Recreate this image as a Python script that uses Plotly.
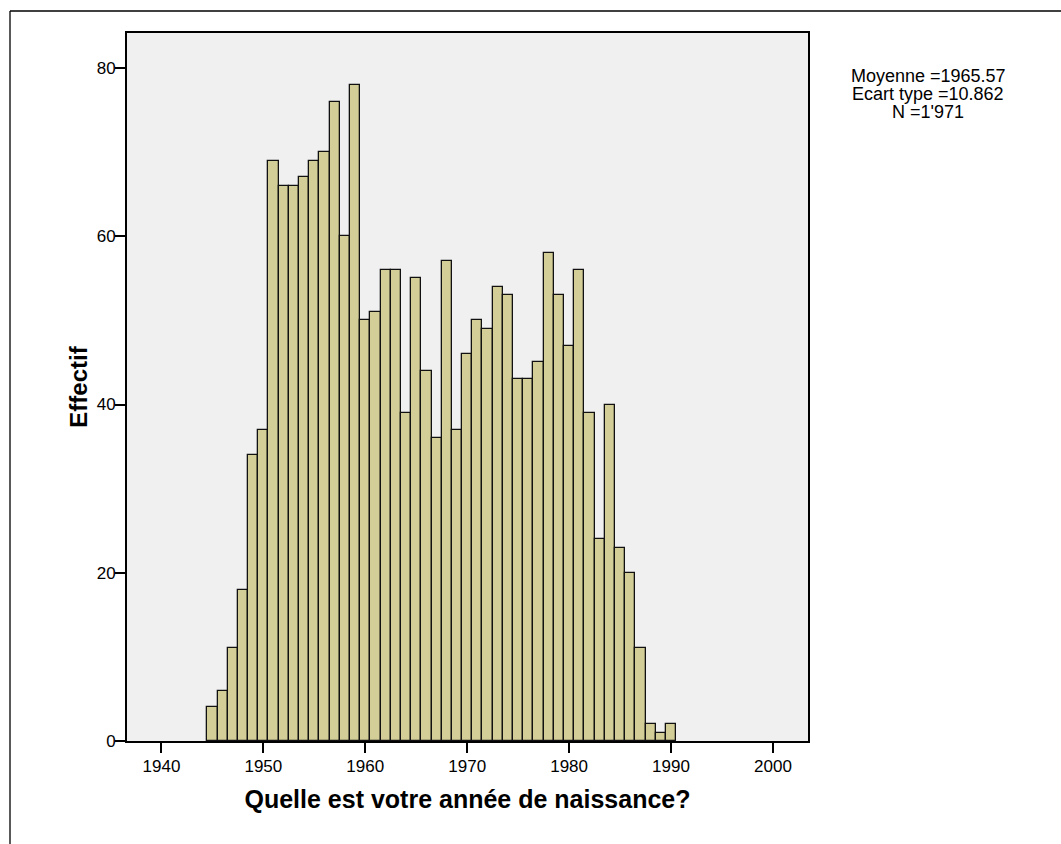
import plotly.graph_objects as go

# Birth years (histogram bins, width 1 year) and counts
years = list(range(1945, 1991))
counts = [4, 6, 11, 18, 34, 37, 69, 66, 66, 67,
          69, 70, 76, 60, 78, 50, 51, 56, 56, 39,
          55, 44, 36, 57, 37, 46, 50, 49, 54, 53,
          43, 43, 45, 58, 53, 47, 56, 39, 24, 40,
          23, 20, 11, 2, 1, 2]

x_ticks = [1940, 1950, 1960, 1970, 1980, 1990, 2000]
y_ticks = [0, 20, 40, 60, 80]
stats_lines = ["Moyenne =1965.57", "Ecart type =10.862", "N =1'971"]

FONT = "Liberation Sans, Arial, sans-serif"

fig = go.Figure()
fig.add_trace(go.Bar(
    x=years, y=counts, width=1,
    marker=dict(color="#D3CE98", line=dict(color="#111111", width=1.3)),
    hoverinfo="x+y",
))

L, T, R, B = 127, 33, 253, 103
W, H = 1061, 844
pw, ph = W - L - R, H - T - B

fig.update_layout(
    width=W, height=H, autosize=False,
    margin=dict(l=L, r=R, t=T, b=B, pad=0),
    paper_bgcolor="white", plot_bgcolor="#F0F0F0",
    bargap=0, showlegend=False,
    font=dict(family=FONT, color="black"),
)
fig.update_xaxes(
    range=[1936.62, 2003.44], tickvals=x_ticks, ticktext=[str(v) for v in x_ticks],
    ticks="outside", ticklen=10, tickwidth=2, tickcolor="black",
    showline=True, linecolor="black", linewidth=2, mirror=True,
    showgrid=False, zeroline=False,
    tickfont=dict(size=17, family=FONT), ticklabelstandoff=-1,
    title=dict(text="<b>Quelle est votre année de naissance?</b>",
               font=dict(size=25, family=FONT), standoff=15),
)
fig.update_yaxes(
    range=[0, 84.16], tickvals=y_ticks,
    ticks="outside", ticklen=10, tickwidth=2, tickcolor="black",
    showline=True, linecolor="black", linewidth=2, mirror=True,
    showgrid=False, zeroline=False,
    tickfont=dict(size=17, family=FONT), ticklabelstandoff=-4,
    title=dict(text="<b>Effectif</b>", font=dict(size=24, family=FONT), standoff=2),
)

# statistics box text
line_y = [75.7, 94.3, 112.0]
for txt, py in zip(stats_lines, line_y):
    fig.add_annotation(
        xref="paper", yref="paper", x=(928 - L) / pw, y=(H - B - py) / ph,
        text=txt, showarrow=False, xanchor="center", yanchor="middle",
        font=dict(size=18, family=FONT, color="black"),
    )

# outer frame lines (top and left)
fx0 = (10 - L) / pw
fy0 = (H - B - 11) / ph
fig.add_shape(type="line", xref="paper", yref="paper",
              x0=fx0, x1=(W - L) / pw, y0=fy0, y1=fy0,
              line=dict(color="black", width=1.3))
fig.add_shape(type="line", xref="paper", yref="paper",
              x0=fx0, x1=fx0, y0=fy0, y1=-(B + 5) / ph,
              line=dict(color="black", width=1.3))

fig.write_html("out.html", config={"displayModeBar": False},
               post_script="document.body.style.margin='0';document.body.style.overflow='hidden';")
